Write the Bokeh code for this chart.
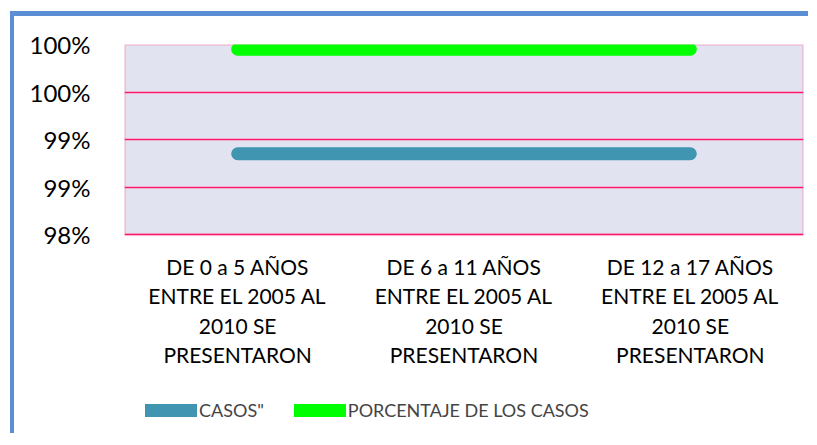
from bokeh.plotting import figure
from bokeh.models import FactorRange, FixedTicker, Range1d, Legend, LegendItem, BoxAnnotation
from bokeh.core.properties import value
from bokeh.embed import file_html
from bokeh.resources import INLINE

categories = [
    "DE 0 a 5 AÑOS\nENTRE EL 2005 AL\n2010 SE\nPRESENTARON",
    "DE 6 a 11 AÑOS\nENTRE EL 2005 AL\n2010 SE\nPRESENTARON",
    "DE 12 a 17 AÑOS\nENTRE EL 2005 AL\n2010 SE\nPRESENTARON",
]
casos = [0.9885, 0.9885, 0.9885]
porcentaje = [0.9995, 0.9995, 0.9995]
y_ticks = [0.98, 0.985, 0.99, 0.995, 1.0]
y_tick_labels = ["98%", "99%", "99%", "100%", "100%"]
series_names = ['CASOS"', "PORCENTAJE DE LOS CASOS"]

y_min, y_max = y_ticks[0], y_ticks[-1]
plot_px = 190          # pixel height of the plotting box
extra_px = 196         # room below the box for category labels and legend
span = y_max - y_min
y_start = y_min - span * extra_px / plot_px

p = figure(
    x_range=FactorRange(*categories),
    y_range=Range1d(y_start, y_max),
    frame_width=679, frame_height=plot_px + extra_px,
    output_backend="svg", toolbar_location=None,
    min_border_left=110, min_border_top=28, min_border_right=5, min_border_bottom=3,
)
p.styles = {"border-top": "5px solid #5A8FD5", "border-left": "4px solid #5A8FD5",
            "margin-top": "11px", "margin-left": "10px"}

p.background_fill_color = "white"
p.border_fill_color = "white"
p.outline_line_color = None

box = BoxAnnotation(bottom=y_min, top=y_max, fill_color="#E2E3F0", fill_alpha=1.0,
                    line_color="#FF1A6E", line_width=2, level="image")
p.add_layout(box)

r1 = p.line(categories, casos, line_color="#4095B0", line_width=13, line_cap="round")
r2 = p.line(categories, porcentaje, line_color="#00FF00", line_width=13, line_cap="round")

label_y = [y_min - span * 76 / plot_px] * len(categories)
p.text(x=categories, y=label_y, text=categories,
       text_font=value("Lato"), text_font_size="21px", text_color="black",
       text_align="center", text_baseline="middle", text_line_height=1.18)

p.yaxis.ticker = FixedTicker(ticks=y_ticks)
p.yaxis.major_label_overrides = {t: l for t, l in zip(y_ticks, y_tick_labels)}
p.yaxis.major_label_text_font = "Lato"
p.yaxis.major_label_text_font_size = "24px"
p.yaxis.major_label_text_color = "black"
p.yaxis.major_tick_line_color = None
p.yaxis.minor_tick_line_color = None
p.yaxis.major_label_standoff = 28
p.yaxis.axis_line_color = None

p.xaxis.visible = False
p.xgrid.grid_line_color = None
p.ygrid.grid_line_color = "#FF1A6E"
p.ygrid.grid_line_width = 1.5

legend = Legend(
    items=[LegendItem(label=series_names[0], renderers=[r1]),
           LegendItem(label=series_names[1], renderers=[r2])],
    orientation="horizontal", location=(21, 9),
    label_text_font="Lato", label_text_font_size="18px",
    glyph_width=52, glyph_height=14, label_standoff=2, spacing=30,
    padding=0, margin=0, border_line_color=None, background_fill_alpha=0,
)
p.add_layout(legend, "center")

open("out.html", "w").write(file_html(p, INLINE))
